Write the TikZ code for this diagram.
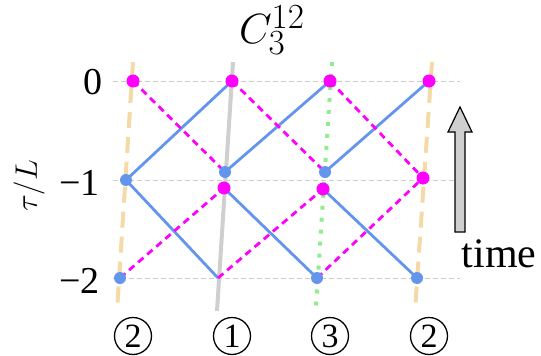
\documentclass[tikz,border=0pt]{standalone}
\usepackage{fix-cm}
\usepackage{fontspec}
\setmainfont{Liberation Serif}
\usepackage{tikz}
\usetikzlibrary{calc,positioning}
\definecolor{bluec}{HTML}{6495ED}
\definecolor{magc}{HTML}{FF00FF}
\definecolor{wheatc}{HTML}{F5D9A6}
\definecolor{greenc}{HTML}{90EE90}
\definecolor{greyc}{HTML}{CFCFCF}
\definecolor{gridc}{HTML}{CCCCCC}
\tikzset{
  gline/.style={gridc,line width=0.9pt,dash pattern=on 5pt off 3pt},
  bl/.style={bluec,line width=2.8pt},
  mg/.style={magc,line width=2.8pt,dash pattern=on 7pt off 5pt},
  bdot/.style={circle,fill=bluec,inner sep=0pt,minimum size=12pt},
  mdot/.style={circle,fill=magc,inner sep=0pt,minimum size=13pt},
  tick/.style={anchor=east,font=\fontsize{38}{40}\selectfont},
  lab/.style={circle,draw,line width=1.3pt,inner sep=0pt,minimum size=37pt,font=\fontsize{34}{34}\selectfont}
}

\begin{document}
\begin{tikzpicture}[x=1pt,y=-1pt]
\useasboundingbox (0,0) rectangle (541,356);
% grid
\foreach \y in {81,180,278} \draw[gline] (113,\y)--(460,\y);
% guides
\draw[wheatc,line width=4pt,dash pattern=on 16pt off 9pt] (133,62)--(117,311);
\draw[wheatc,line width=4pt,dash pattern=on 16pt off 9pt] (432,62)--(415,311);
\draw[greyc,line width=4pt] (233,62)--(217,311);
\draw[greenc,line width=4pt,dash pattern=on 4pt off 8pt] (332,62)--(316,306);
% points
\coordinate (t1) at (133,81);
\coordinate (t2) at (232,81);
\coordinate (t3) at (330,81);
\coordinate (t4) at (429,81);
\coordinate (b1) at (126,180);
\coordinate (b2) at (225,172);
\coordinate (m2) at (224,188);
\coordinate (b3) at (325,172);
\coordinate (m3) at (323,189);
\coordinate (m4) at (423,178);
\coordinate (b5) at (120,278);
\coordinate (c1) at (218,278);
\coordinate (b6) at (317,278);
\coordinate (b7) at (417,278);
% world lines
\draw[bl] (b1)--(t2) (b2)--(t3) (b3)--(t4);
\draw[bl] (b1)--(c1) (m2)--(b6) (m3)--(b7);
\draw[mg] (t1)--(b2) (t2)--(b3) (t3)--(m4);
\draw[mg] (b5)--(m2) (c1)--(m3) (b6)--(m4);
\foreach \p in {b1,b2,b3,b5,b6,b7} \node[bdot] at (\p) {};
\foreach \p in {t1,t2,t3,t4,m2,m3,m4} \node[mdot] at (\p) {};
% labels
\node[tick] (y0) at (106,82) {0};
\node[tick] (y1) at (103,183) {−1};
\node[tick] (y2) at (103,281) {−2};
\node[rotate=90,font=\Huge,scale=1.25] (ylab) at (29,186) {$\tau/L$};
\node[font=\Huge,scale=1.7] (ttl) at (272,30) {$C_3^{12}$};
\node[lab] (n1) at (133,336) {2};
\node[lab] (n2) at (232,336) {1};
\node[lab] (n3) at (330,336) {3};
\node[lab] (n4) at (429,336) {2};
% time arrow
\draw[line width=1.2pt,fill=greyc] (455,232)--(455,132)--(448,132)--(460,107)--(472,132)--(465,132)--(465,232)--cycle;
\node[anchor=base,font=\fontsize{42}{42}\selectfont] (tm) at (499,267) {time};
\end{tikzpicture}
\end{document}
